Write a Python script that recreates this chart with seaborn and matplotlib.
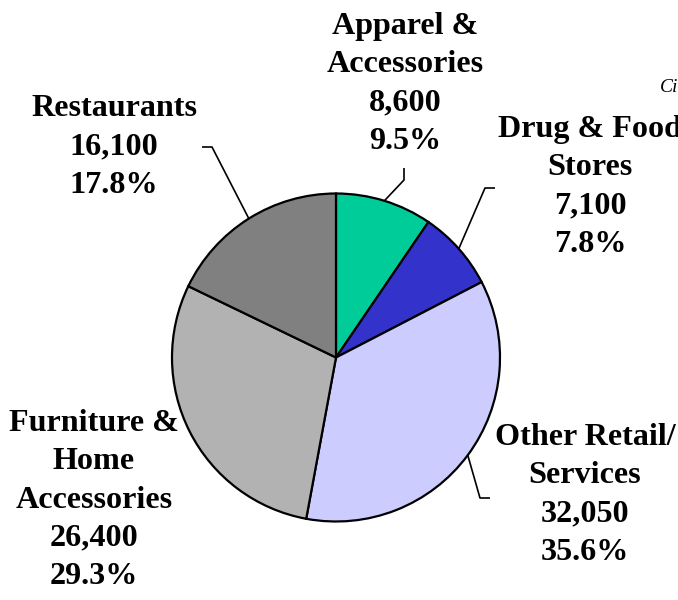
import numpy as np
import matplotlib
matplotlib.use('Agg')
import matplotlib.pyplot as plt
import seaborn as sns

categories = ['Apparel &\nAccessories', 'Drug & Food\nStores', 'Other Retail/\nServices',
              'Furniture &\nHome\nAccessories', 'Restaurants']
values = [8600, 7100, 32050, 26400, 16100]
value_labels = ['8,600', '7,100', '32,050', '26,400', '16,100']
pct_labels = ['9.5%', '7.8%', '35.6%', '29.3%', '17.8%']
colors = ['#00CC99', '#3333CC', '#CCCCFF', '#B2B2B2', '#808080']

W, H = 678, 600


def py(y):
    # pixel row (from top) -> data y
    return H - y


sns.set_theme(style='white')
plt.rcParams['font.family'] = ['Liberation Serif', 'DejaVu Serif']

fig = plt.figure(figsize=(W / 100, H / 100), dpi=100)
ax = fig.add_axes([0, 0, 1, 1])

cx, cy, r = 336, py(357.5), 164
wedges, _ = ax.pie(values, colors=colors, startangle=90, counterclock=False,
                   center=(cx, cy), radius=r,
                   wedgeprops=dict(edgecolor='black', linewidth=1.6))
ax.set_xlim(0, W)
ax.set_ylim(0, H)
ax.set_aspect('equal')
ax.axis('off')

# label block centres and leader elbows, in pixels
label_pos = [(405, 84), (590, 187), (585, 495), (94, 500), (114, 147)]
leaders = [[(404, 180), (404, 168)],
           [(485, 188), (495, 188)],
           [(480, 498), (490, 498)],
           None,
           [(212, 147), (202, 147)]]

for w, name, v, p, (lx, ly), ld in zip(wedges, categories, value_labels, pct_labels,
                                       label_pos, leaders):
    ax.text(lx, py(ly), f'{name}\n{v}\n{p}', ha='center', va='center',
            multialignment='center', fontsize=23.1, fontweight='bold',
            linespacing=1.41, color='black')
    if ld is None:
        continue
    ang = np.deg2rad((w.theta1 + w.theta2) / 2)
    xs = [cx + r * np.cos(ang)] + [q[0] for q in ld]
    ys = [cy + r * np.sin(ang)] + [py(q[1]) for q in ld]
    ax.plot(xs, ys, color='black', linewidth=1.2, solid_capstyle='butt')

ax.text(660, py(92), 'Ci', ha='left', va='baseline', fontsize=14,
        fontstyle='italic', color='black')

fig.savefig('out.png', dpi=100)
plt.close(fig)
